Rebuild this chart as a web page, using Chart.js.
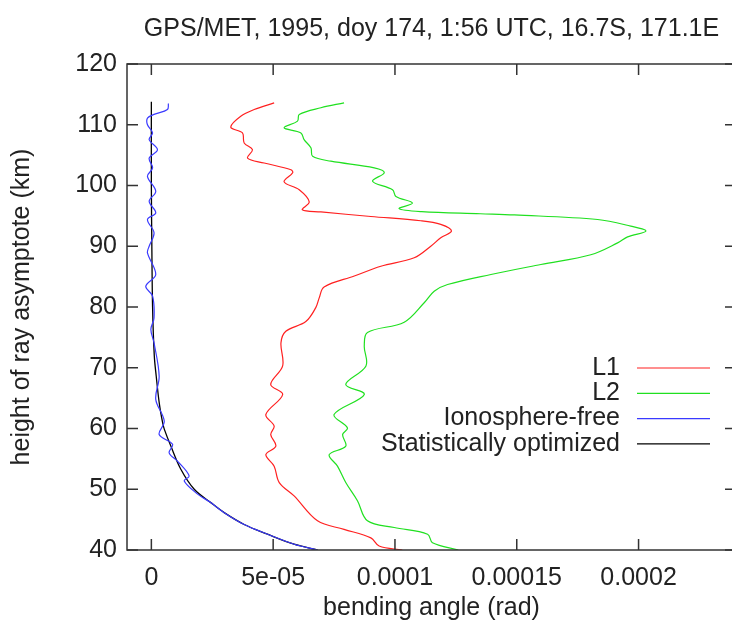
<!DOCTYPE html>
<html>
<head>
<meta charset="utf-8">
<script src="https://cdn.jsdelivr.net/npm/chart.js@4"></script>
<style>
  html, body { margin: 0; padding: 0; background: #fff; overflow: hidden; }
  #wrap { width: 740px; height: 623px; }
</style>
</head>
<body>
<div id="wrap"><canvas id="bendChart" width="740" height="623"></canvas></div>
<script>
// bending angle profiles, heights in km, angles in rad
const l1Heights = [113.6, 112.5, 111.4, 109.6, 108.65, 107.0, 105.9, 104.5, 103.7, 102.6, 102.1, 100.6, 99.3, 97.3, 96.0, 95.65, 94.9, 94.2, 93.6, 92.5, 91.4, 90.0, 88.1, 86.7, 85.1, 83.3, 81.5, 79.9, 77.6, 76.0, 74.1, 70.3, 67.25, 65.6, 62.3, 60.4, 59.0, 57.1, 55.7, 53.8, 51.1, 48.9, 44.8, 43.4, 42.0, 40.65, 40.0];
const l1Angles = [5.04e-5, 4.22e-5, 3.67e-5, 3.26e-5, 3.74e-5, 3.81e-5, 4.15e-5, 3.95e-5, 4.63e-5, 5.73e-5, 5.8e-5, 5.45e-5, 6.07e-5, 6.48e-5, 6.2e-5, 6.96e-5, 9.01e-5, 1.106e-4, 1.188e-4, 1.232e-4, 1.188e-4, 1.147e-4, 1.079e-4, 9.42e-5, 8.33e-5, 7.09e-5, 6.89e-5, 6.75e-5, 6.34e-5, 5.52e-5, 5.32e-5, 5.39e-5, 4.9e-5, 5.39e-5, 4.7e-5, 5.04e-5, 4.9e-5, 5.11e-5, 4.7e-5, 5.04e-5, 5.25e-5, 5.86e-5, 6.82e-5, 7.91e-5, 9.01e-5, 9.35e-5, 1.03e-4];

const l2Heights = [113.6, 112.8, 111.7, 110.6, 109.5, 108.65, 107.55, 106.2, 104.8, 104.0, 102.9, 102.1, 100.7, 99.3, 98.2, 97.1, 96.2, 95.7, 95.35, 95.15, 94.4, 93.3, 92.5, 91.55, 90.55, 88.6, 87.0, 85.35, 83.7, 82.6, 80.7, 77.5, 75.8, 73.55, 70.3, 67.25, 65.6, 62.3, 60.1, 59.0, 57.1, 55.7, 53.8, 51.1, 48.1, 44.8, 43.7, 42.6, 41.2, 40.0];
const l2Angles = [7.91e-5, 6.96e-5, 6.07e-5, 6.0e-5, 5.45e-5, 6.14e-5, 6.27e-5, 6.55e-5, 6.62e-5, 7.37e-5, 9.15e-5, 9.56e-5, 9.08e-5, 9.9e-5, 1.004e-4, 1.072e-4, 1.017e-4, 1.11e-4, 1.35e-4, 1.49e-4, 1.832e-4, 1.968e-4, 2.03e-4, 1.955e-4, 1.914e-4, 1.804e-4, 1.599e-4, 1.394e-4, 1.216e-4, 1.161e-4, 1.12e-4, 1.038e-4, 8.87e-5, 8.74e-5, 8.81e-5, 7.98e-5, 8.74e-5, 7.5e-5, 8.05e-5, 7.85e-5, 7.98e-5, 7.3e-5, 7.64e-5, 7.98e-5, 8.46e-5, 8.87e-5, 9.97e-5, 1.134e-4, 1.154e-4, 1.26e-4];

const ionoHeights = [113.5, 112.5, 111.7, 111.1, 110.0, 108.65, 107.55, 105.9, 104.5, 102.9, 101.5, 99.05, 97.4, 95.5, 94.4, 92.2, 90.0, 88.9, 85.35, 83.4, 81.8, 78.2, 76.3, 74.1, 68.6, 64.8, 61.2, 59.0, 57.4, 56.0, 54.6, 52.2, 51.35, 49.2, 47.8, 46.15, 44.2, 42.6, 40.95, 40.0];
const ionoAngles = [7.0e-6, 6.6e-6, 1.1e-6, -1.6e-6, -1.6e-6, 0.5e-6, -0.9e-6, 2.5e-6, -0.9e-6, 0.5e-6, -1.6e-6, 1.8e-6, -0.9e-6, 1.8e-6, -1.6e-6, 1.1e-6, -0.9e-6, -1.6e-6, 1.8e-6, -2.3e-6, 0.5e-6, 1.1e-6, -0.2e-6, 1.1e-6, 3.2e-6, 1.8e-6, 5.3e-6, 3.2e-6, 8.7e-6, 7.3e-6, 1.08e-5, 1.55e-5, 1.35e-5, 1.9e-5, 2.44e-5, 2.99e-5, 3.81e-5, 4.77e-5, 5.86e-5, 6.82e-5];

const statHeights = [113.8, 100.0, 90.0, 80.0, 72.0, 68.6, 64.0, 61.0, 59.9, 57.1, 53.3, 50.0, 47.8, 46.15, 44.2, 42.6, 40.95, 40.0];
const statAngles = [0, 0, 0.2e-6, 0.5e-6, 1.2e-6, 2.0e-6, 3.3e-6, 4.6e-6, 5.3e-6, 8.0e-6, 1.21e-5, 1.76e-5, 2.44e-5, 2.99e-5, 3.81e-5, 4.77e-5, 5.86e-5, 6.82e-5];

const seriesNames = ["L1", "L2", "Ionosphere-free", "Statistically optimized"];
const seriesColors = ["#ff2020", "#20e020", "#3a3aff", "#000000"];

const xTickValues = [0, 5e-5, 1e-4, 1.5e-4, 2e-4];
const xTickLabels = ["0", "5e-05", "0.0001", "0.00015", "0.0002"];
const yTickValues = [40, 50, 60, 70, 80, 90, 100, 110, 120];

const titleText = "GPS/MET, 1995, doy 174, 1:56 UTC, 16.7S, 171.1E";

function toPoints(hs, vs) {
  return hs.map((h, i) => ({ x: vs[i], y: h }));
}

const FONT = "'Liberation Sans', Arial, Helvetica, sans-serif";
const TXT = "#222";
const FS = 25;

// title centred over the plot, inward ticks on all four sides, box and key
const gnuplotLook = {
  id: "gnuplotLook",
  afterDraw(chart) {
    const { ctx, chartArea: a, scales } = chart;
    const t = 11;
    ctx.save();
    ctx.fillStyle = TXT;
    ctx.font = FS + "px " + FONT;
    ctx.textAlign = "center";
    ctx.textBaseline = "middle";
    ctx.fillText(titleText, (a.left + a.right) / 2, 29);

    ctx.strokeStyle = "#333";
    ctx.lineWidth = 1.5;
    ctx.beginPath();
    scales.x.ticks.forEach((tk) => {
      const px = scales.x.getPixelForValue(tk.value);
      ctx.moveTo(px, a.top); ctx.lineTo(px, a.top + t);
      ctx.moveTo(px, a.bottom); ctx.lineTo(px, a.bottom - t);
    });
    scales.y.ticks.forEach((tk) => {
      const py = scales.y.getPixelForValue(tk.value);
      ctx.moveTo(a.left, py); ctx.lineTo(a.left + t, py);
      ctx.moveTo(a.right, py); ctx.lineTo(a.right - t, py);
    });
    ctx.stroke();
    ctx.strokeRect(a.left, a.top, a.right - a.left, a.bottom - a.top);

    // key
    const keyRight = 620, lineX0 = 637, lineX1 = 710, keyTop = 368, step = 25.3;
    ctx.textAlign = "right";
    chart.data.datasets.forEach((ds, i) => {
      const y = keyTop + i * step;
      ctx.fillStyle = TXT;
      ctx.fillText(ds.label, keyRight, y);
      ctx.strokeStyle = ds.borderColor;
      ctx.lineWidth = ds.borderWidth;
      ctx.beginPath();
      ctx.moveTo(lineX0, y); ctx.lineTo(lineX1, y);
      ctx.stroke();
    });
    ctx.restore();
  }
};

const allHeights = [l1Heights, l2Heights, ionoHeights, statHeights];
const allAngles = [l1Angles, l2Angles, ionoAngles, statAngles];

new Chart(document.getElementById("bendChart"), {
  type: "scatter",
  data: {
    datasets: seriesNames.map((name, i) => ({
      label: name,
      data: toPoints(allHeights[i], allAngles[i]),
      showLine: true,
      borderColor: seriesColors[i],
      borderWidth: i === 3 ? 1.3 : 1.2,
      pointRadius: 0,
      tension: 0.35,
      fill: false
    }))
  },
  options: {
    responsive: false,
    devicePixelRatio: 1,
    animation: false,
    layout: { padding: { top: 64, right: 4, left: 0, bottom: 0 } },
    plugins: {
      legend: { display: false },
      title: { display: false },
      tooltip: { enabled: false }
    },
    scales: {
      x: {
        type: "linear",
        min: -1e-5,
        max: 2.4e-4,
        grid: { display: false, drawTicks: false },
        border: { display: false },
        afterBuildTicks: (scale) => { scale.ticks = xTickValues.map((v) => ({ value: v })); },
        afterFit: (scale) => { scale.height = 73; },
        ticks: {
          padding: 13,
          color: TXT,
          font: { family: FONT, size: FS },
          maxRotation: 0,
          callback: (v) => xTickLabels[xTickValues.indexOf(v)]
        },
        title: {
          display: true,
          text: "bending angle (rad)",
          color: TXT,
          font: { family: FONT, size: FS },
          padding: { top: 0, bottom: 0 }
        }
      },
      y: {
        type: "linear",
        min: 40,
        max: 120,
        grid: { display: false, drawTicks: false },
        border: { display: false },
        afterBuildTicks: (scale) => { scale.ticks = yTickValues.map((v) => ({ value: v })); },
        afterFit: (scale) => { scale.width = 127; },
        ticks: {
          padding: 10,
          color: TXT,
          font: { family: FONT, size: FS }
        },
        title: {
          display: true,
          text: "height of ray asymptote (km)",
          color: TXT,
          font: { family: FONT, size: FS },
          padding: { top: 7, bottom: 0 }
        }
      }
    }
  },
  plugins: [gnuplotLook]
});
</script>
</body>
</html>
